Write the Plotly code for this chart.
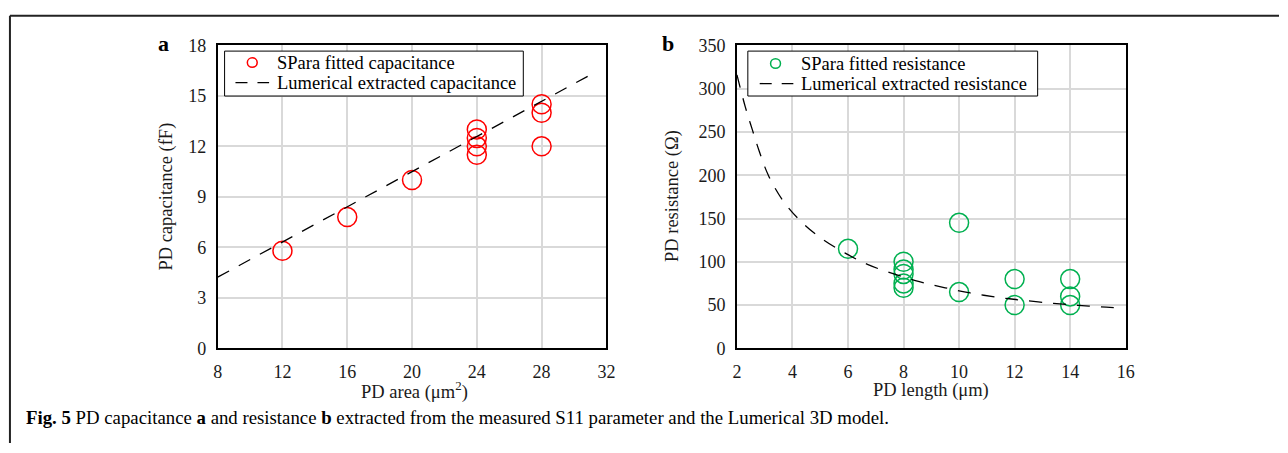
import plotly.graph_objects as go

W, H = 1288, 453

# ---- data: panel a ----
area = [12, 16, 20, 24, 24, 24, 24, 28, 28, 28]
cap = [5.8, 7.8, 10.0, 13.0, 12.5, 12.0, 11.5, 14.5, 14.0, 12.0]
area_line = [8, 31.3]
cap_line = [4.23, 16.4]
a_xticks = [8, 12, 16, 20, 24, 28, 32]
a_yticks = [0, 3, 6, 9, 12, 15, 18]

# ---- data: panel b ----
length = [6, 8, 8, 8, 8, 8, 10, 10, 12, 12, 14, 14, 14]
res = [115, 100, 91, 86, 75, 70, 145, 65, 80, 50, 80, 60, 50]
len_curve = [2.0, 2.3, 2.55, 2.8, 3.13, 3.65, 4.28, 5.0, 5.9, 6.7, 7.65, 8.57,
             9.5, 10.4, 11.4, 12.3, 13.4, 14.3, 15.3, 15.6]
res_curve = [316, 279, 253, 228, 200, 171, 147.5, 128, 110, 97, 86, 77,
             70, 64, 59, 55.5, 52, 49.7, 47.6, 47]
b_xticks = [2, 4, 6, 8, 10, 12, 14, 16]
b_yticks = [0, 50, 100, 150, 200, 250, 300, 350]

names_a = ["SPara fitted capacitance", "Lumerical extracted capacitance"]
names_b = ["SPara fitted resistance", "Lumerical extracted resistance"]

FONT = "Liberation Serif"
RED = "#ff0000"
GREEN = "#00b050"
DASH = "12px,10px"


def px(x):
    return x / W


def py(y):
    return 1 - y / H


fig = go.Figure()

fig.add_trace(go.Scatter(
    x=area, y=cap, mode="markers", name=names_a[0],
    marker=dict(symbol="circle-open", size=19, color=RED, line=dict(width=1.5, color=RED)),
    xaxis="x", yaxis="y"))
fig.add_trace(go.Scatter(
    x=area_line, y=cap_line, mode="lines", name=names_a[1],
    line=dict(color="black", width=1.3, dash="13px,11px"),
    xaxis="x", yaxis="y"))

fig.add_trace(go.Scatter(
    x=length, y=res, mode="markers", name=names_b[0],
    marker=dict(symbol="circle-open", size=19, color=GREEN, line=dict(width=1.5, color=GREEN)),
    xaxis="x2", yaxis="y2"))
fig.add_trace(go.Scatter(
    x=len_curve, y=res_curve, mode="lines", name=names_b[1],
    line=dict(color="black", width=1.3, dash="13px,11px", shape="spline"),
    xaxis="x2", yaxis="y2"))

ydom = [py(354), py(37)]
axis_common = dict(
    showline=True, linecolor="black", linewidth=1.5, mirror=True,
    showgrid=True, gridcolor="#d9d9d9", gridwidth=1.5,
    zeroline=False, ticks="",
    tickfont=dict(family=FONT, size=18, color="#1a1a1a"),
)

fig.update_layout(
    width=W - 16, height=H - 16,
    autosize=False,
    margin=dict(l=0, r=0, t=0, b=0),
    paper_bgcolor="white", plot_bgcolor="white",
    showlegend=False,
    xaxis=dict(domain=[px(215), px(608)], range=[8, 32], tickvals=a_xticks,
               anchor="y", ticklabelstandoff=6, **axis_common),
    yaxis=dict(domain=ydom, range=[0, 18], tickvals=a_yticks,
               anchor="x", ticklabelstandoff=6, **axis_common),
    xaxis2=dict(domain=[px(740), px(1133)], range=[2, 16], tickvals=b_xticks,
                anchor="y2", ticklabelstandoff=6, **axis_common),
    yaxis2=dict(domain=ydom, range=[0, 350], tickvals=b_yticks,
                anchor="x2", ticklabelstandoff=6, **axis_common),
)

ann_font = dict(family=FONT, size=18.5, color="#1a1a1a")
leg_font = dict(family=FONT, size=18.5, color="black")
annotations = [
    dict(text="PD area (μm<sup>2</sup>)", x=px(414), y=py(398), font=ann_font),
    dict(text="PD length (μm)", x=px(936), y=py(398), font=ann_font),
    dict(text="PD capacitance (fF)", x=px(163), y=py(195), textangle=-90, font=ann_font),
    dict(text="PD resistance (Ω)", x=px(675), y=py(195), textangle=-90, font=ann_font),
    dict(text="<b>a</b>", x=px(160), y=py(35), font=dict(family=FONT, size=22, color="black")),
    dict(text="<b>b</b>", x=px(670), y=py(35), font=dict(family=FONT, size=22, color="black")),
    dict(text="<b>Fig. 5</b> PD capacitance <b>a</b> and resistance <b>b</b> extracted from the "
              "measured S11 parameter and the Lumerical 3D model.",
         x=px(19), y=py(426), xanchor="left", font=dict(family=FONT, size=18.8, color="black")),
    # legend texts
    dict(text=names_a[0], x=px(273), y=py(55), xanchor="left", font=leg_font),
    dict(text=names_a[1], x=px(273), y=py(76), xanchor="left", font=leg_font),
    dict(text=names_b[0], x=px(803), y=py(56), xanchor="left", font=leg_font),
    dict(text=names_b[1], x=px(803), y=py(77), xanchor="left", font=leg_font),
]
for a in annotations:
    a.setdefault("xanchor", "center")
    a.update(xref="paper", yref="paper", yanchor="middle", showarrow=False)
fig.update_layout(annotations=annotations)


def pshape(kind, x0, y0, x1, y1, **kw):
    d = dict(type=kind, xref="paper", yref="paper",
             x0=px(x0), x1=px(x1), y0=py(y0), y1=py(y1), layer="above")
    d.update(kw)
    return d


shapes = [
    # outer frame (top and left edges)
    pshape("line", 5, 6, W, 6, line=dict(color="#222", width=2)),
    pshape("line", 5, 6, 5, H, line=dict(color="#222", width=2)),
    # legend a
    pshape("rect", 222, 43, 524, 90, fillcolor="white", line=dict(color="black", width=1)),
    pshape("circle", 245, 50, 255, 60, line=dict(color=RED, width=1.5)),
    pshape("line", 233, 76, 267, 76, line=dict(color="black", width=1.3, dash=DASH)),
    # legend b
    pshape("rect", 751, 43, 1044, 90, fillcolor="white", line=dict(color="black", width=1)),
    pshape("circle", 774, 51, 784, 61, line=dict(color=GREEN, width=1.5)),
    pshape("line", 763, 77, 797, 77, line=dict(color="black", width=1.3, dash=DASH)),
]
fig.update_layout(shapes=shapes)

post = (
    "document.documentElement.style.margin='0';"
    "document.body.style.margin='0';"
    "document.body.style.overflow='hidden';"
    "var gd=document.getElementById('{plot_id}');"
    "gd.style.width='%dpx';gd.style.height='%dpx';"
    "Plotly.relayout(gd,{width:%d,height:%d});" % (W, H, W, H)
)

fig.write_html("out.html", post_script=post, config={"displayModeBar": False})
